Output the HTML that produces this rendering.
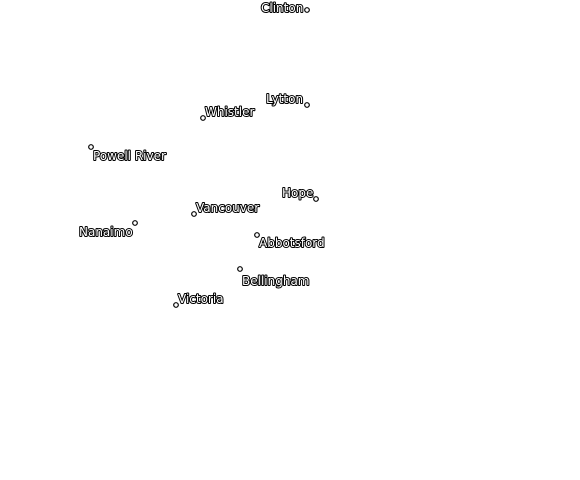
<!DOCTYPE html>
<html><head><meta charset="utf-8"><style>
html,body{margin:0;padding:0;background:#fff;width:580px;height:480px;overflow:hidden}
text{font-family:"DejaVu Sans","Liberation Sans",sans-serif;font-size:12px;fill:#fff;stroke:#000;stroke-width:2px;paint-order:stroke;stroke-linejoin:round}
circle{fill:#fff;stroke:#000;stroke-width:1.2}
</style></head><body>
<svg width="580" height="480" xmlns="http://www.w3.org/2000/svg">
<circle cx="307" cy="10" r="2.3"/><text x="261" y="12">Clinton</text>
<circle cx="307" cy="105" r="2.3"/><text x="266" y="103">Lytton</text>
<circle cx="203" cy="118" r="2.3"/><text x="205" y="116">Whistler</text>
<circle cx="91" cy="147" r="2.3"/><text x="93" y="160">Powell River</text>
<circle cx="316" cy="199" r="2.3"/><text x="282" y="197">Hope</text>
<circle cx="194" cy="214" r="2.3"/><text x="196" y="212">Vancouver</text>
<circle cx="135" cy="223" r="2.3"/><text x="79" y="236">Nanaimo</text>
<circle cx="257" cy="235" r="2.3"/><text x="259" y="247">Abbotsford</text>
<circle cx="240" cy="269" r="2.3"/><text x="242" y="285">Bellingham</text>
<circle cx="176" cy="305" r="2.3"/><text x="178" y="303">Victoria</text>
</svg>
</body></html>
